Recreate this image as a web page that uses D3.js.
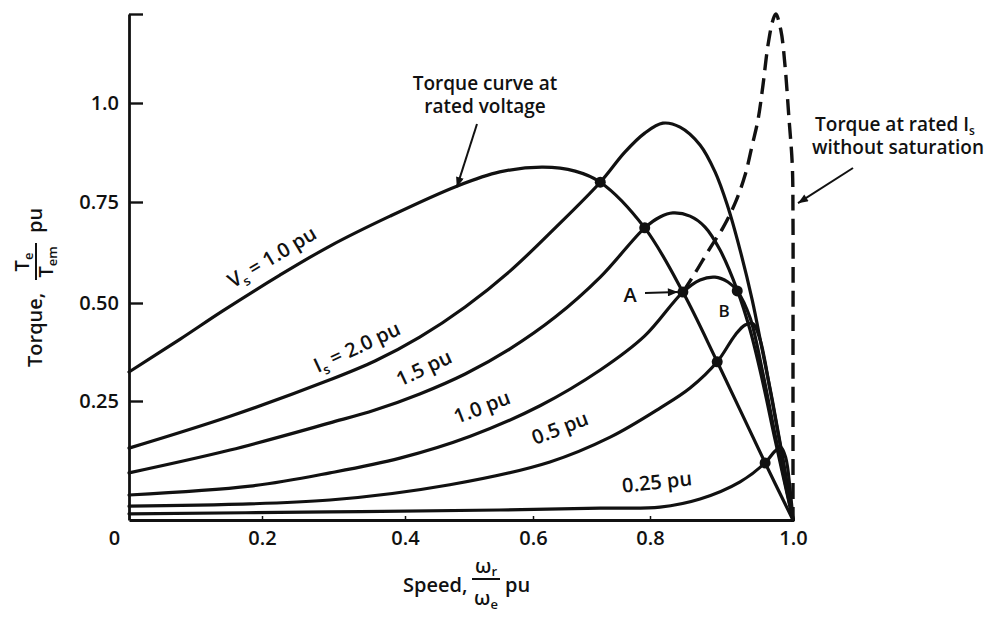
<!DOCTYPE html>
<html><head><meta charset="utf-8">
<script src="https://cdn.jsdelivr.net/npm/d3@7"></script>
<style>
html,body{margin:0;padding:0;background:#fff;}
svg{display:block;}
text{font-family:"Open Sans",sans-serif;fill:#111;font-weight:600;}
</style></head><body>
<svg id="chart" width="992" height="618"></svg>
<script>
// ---------------- data ----------------
const xTicks = [0, 0.2, 0.4, 0.6, 0.8, 1.0];
const xTickLabels = ["0", "0.2", "0.4", "0.6", "0.8", "1.0"];
const yTicks = [0.25, 0.5, 0.75, 1.0];
const yTickLabels = ["0.25", "0.50", "0.75", "1.0"];
const yTop = 1.225;

// [speed pu, torque pu]
const ratedVoltage = [[0,0.324],[0.077,0.408],[0.141,0.480],[0.225,0.569],[0.295,0.641],[0.379,0.715],[0.481,0.790],[0.548,0.826],[0.617,0.838],[0.672,0.828],[0.715,0.800],[0.791,0.686],[0.846,0.527],[0.894,0.350],[0.961,0.120],[1.0,0]];
const is20 = [[0,0.151],[0.152,0.218],[0.295,0.304],[0.358,0.352],[0.423,0.413],[0.494,0.490],[0.564,0.579],[0.638,0.686],[0.715,0.800],[0.757,0.876],[0.791,0.924],[0.818,0.949],[0.842,0.939],[0.870,0.894],[0.891,0.826],[0.908,0.743],[0.926,0.631],[0.943,0.507],[0.957,0.380],[0.971,0.253],[0.985,0.137],[1.0,0]];
const is15 = [[0,0.099],[0.152,0.147],[0.295,0.204],[0.358,0.231],[0.423,0.268],[0.494,0.319],[0.564,0.383],[0.638,0.464],[0.715,0.564],[0.791,0.686],[0.814,0.713],[0.832,0.723],[0.856,0.715],[0.877,0.688],[0.898,0.631],[0.922,0.532],[0.940,0.431],[0.957,0.304],[0.975,0.168],[1.0,0]];
const is10 = [[0,0.0525],[0.182,0.071],[0.295,0.099],[0.393,0.130],[0.502,0.176],[0.612,0.240],[0.715,0.329],[0.791,0.416],[0.846,0.527],[0.870,0.557],[0.891,0.564],[0.909,0.552],[0.922,0.530],[0.940,0.462],[0.957,0.329],[0.975,0.179],[1.0,0]];
const is05 = [[0,0.029],[0.295,0.042],[0.470,0.074],[0.629,0.122],[0.732,0.174],[0.814,0.235],[0.856,0.283],[0.894,0.350],[0.919,0.418],[0.933,0.444],[0.944,0.447],[0.954,0.406],[0.968,0.278],[0.982,0.158],[1.0,0]];
const is025 = [[0,0.013],[0.295,0.017],[0.548,0.021],[0.715,0.025],[0.814,0.027],[0.870,0.044],[0.926,0.080],[0.961,0.120],[0.975,0.145],[0.983,0.153],[0.990,0.130],[0.996,0.063],[1.0,0]];
const noSaturation = [[0.846,0.527],[0.863,0.574],[0.884,0.636],[0.902,0.686],[0.919,0.747],[0.933,0.818],[0.943,0.894],[0.951,0.957],[0.958,1.045],[0.965,1.146],[0.972,1.210],[0.976,1.225],[0.983,1.184],[0.989,1.091],[0.994,0.970],[0.999,0.843],[1.0,0.705],[1.0,0.35],[1.0,0]];
const operatingPoints = [[0.715,0.800],[0.791,0.686],[0.846,0.527],[0.894,0.350],[0.961,0.120],[0.922,0.530]];

// ---------------- chart ----------------
const svg = d3.select("#chart");
const ink = "#111";
const x = d3.scaleLinear().domain(xTicks).range([129, 262, 405, 533, 650, 793]);
const y = d3.scaleLinear().domain([0, ...yTicks, yTop]).range([520, 401, 303, 202, 103, 14]);

// axes
const yAxis = d3.axisLeft(y).tickValues([...yTicks, yTop]).tickSize(-14).tickSizeOuter(0).tickPadding(10)
  .tickFormat((d, i) => i < yTickLabels.length ? yTickLabels[i] : "");
const gy = svg.append("g").attr("transform", `translate(${x(0)},0)`).call(yAxis)
  .attr("font-size", null).attr("font-family", null);
gy.select(".domain").attr("stroke", ink).attr("stroke-width", 2.8);
gy.selectAll(".tick line").attr("stroke", ink).attr("stroke-width", 2.4);
gy.selectAll(".tick text").attr("font-size", 20).attr("fill", ink).attr("dy", "0.34em");

const xAxis = d3.axisBottom(x).tickValues(xTicks).tickSize(-4).tickSizeOuter(0).tickPadding(11)
  .tickFormat((d, i) => xTickLabels[i]);
const gx = svg.append("g").attr("transform", `translate(0,${y(0)})`).call(xAxis)
  .attr("font-size", null).attr("font-family", null);
gx.select(".domain").attr("stroke", ink).attr("stroke-width", 2.8);
gx.selectAll(".tick line").attr("stroke", ink).attr("stroke-width", 1.5);
gx.selectAll(".tick text").attr("font-size", 20).attr("fill", ink);
gx.selectAll(".tick text").filter((d, i) => i === 0).attr("x", -15);

// curves
const line = d3.line().x(d => x(d[0])).y(d => y(d[1])).curve(d3.curveCatmullRom.alpha(0.5));
const solid = [ratedVoltage, is20, is15, is10, is05, is025];
svg.append("g").selectAll("path").data(solid).join("path")
  .attr("d", line).attr("fill", "none").attr("stroke", ink)
  .attr("stroke-width", 3.2).attr("stroke-linejoin", "round").attr("stroke-linecap", "round");
svg.append("path").datum(noSaturation).attr("d", line).attr("fill", "none")
  .attr("stroke", ink).attr("stroke-width", 3.4).attr("stroke-dasharray", "16,8");

svg.append("g").selectAll("circle").data(operatingPoints).join("circle")
  .attr("cx", d => x(d[0])).attr("cy", d => y(d[1])).attr("r", 5.5).attr("fill", ink);

// arrow marker
svg.append("defs").append("marker").attr("id", "arr").attr("viewBox", "0 0 10 8")
  .attr("refX", 10).attr("refY", 4).attr("markerWidth", 11).attr("markerHeight", 8)
  .attr("markerUnits", "userSpaceOnUse").attr("orient", "auto")
  .append("path").attr("d", "M0,0L10,4L0,8Z").attr("fill", ink);

function arrow(x1, y1, x2, y2) {
  svg.append("line").attr("x1", x1).attr("y1", y1).attr("x2", x2).attr("y2", y2)
    .attr("stroke", ink).attr("stroke-width", 2).attr("marker-end", "url(#arr)");
}

// annotations
const t1 = svg.append("text").attr("font-size", 19).attr("text-anchor", "middle");
t1.append("tspan").attr("x", 485).attr("y", 90).text("Torque curve at");
t1.append("tspan").attr("x", 485).attr("y", 113).text("rated voltage");
arrow(477, 124, x(0.481), y(0.790) + 1);

const t2 = svg.append("text").attr("font-size", 19).attr("text-anchor", "middle");
const l1 = t2.append("tspan").attr("x", 895).attr("y", 131);
l1.append("tspan").text("Torque at rated I");
l1.append("tspan").attr("font-size", 12).attr("dy", 4).text("s");
t2.append("tspan").attr("x", 898).attr("y", 154).text("without saturation");
arrow(853, 168, x(1.0) + 5, y(0.747));

svg.append("text").attr("font-size", 20).attr("x", 630).attr("y", 302).attr("text-anchor", "middle").text("A");
arrow(645, 293, x(0.846) - 5, y(0.527));
svg.append("text").attr("font-size", 17).attr("x", 724).attr("y", 317).attr("text-anchor", "middle").text("B");

function curveLabel(cx, cy, ang, main, sub, rest) {
  const t = svg.append("text").attr("font-size", 20).attr("text-anchor", "middle")
    .attr("transform", `translate(${cx},${cy}) rotate(${ang})`).attr("dy", "0.35em");
  if (sub) {
    t.append("tspan").text(main);
    t.append("tspan").attr("font-size", 13).attr("dy", 5).text(sub);
    t.append("tspan").attr("dy", -5).text(rest);
  } else {
    t.text(main);
  }
}
curveLabel(272, 257, -31, "V", "s", " = 1.0 pu");
curveLabel(357, 347, -25, "I", "s", " = 2.0 pu");
curveLabel(424, 368, -25, "1.5 pu");
curveLabel(482, 407, -21, "1.0 pu");
curveLabel(560, 428, -21, "0.5 pu");
curveLabel(657, 482, -6, "0.25 pu");

// axis titles
const yl = svg.append("g").attr("transform", "translate(42,367) rotate(-90)");
yl.append("text").attr("font-size", 20).attr("x", 0).attr("y", 0).text("Torque,");
const yn = yl.append("text").attr("font-size", 20).attr("x", 105).attr("y", -13).attr("text-anchor", "middle");
yn.append("tspan").text("T"); yn.append("tspan").attr("font-size", 13).attr("dy", 4).text("e");
yl.append("line").attr("x1", 87).attr("x2", 124).attr("y1", -6).attr("y2", -6).attr("stroke", ink).attr("stroke-width", 2);
const yd = yl.append("text").attr("font-size", 20).attr("x", 105).attr("y", 11).attr("text-anchor", "middle");
yd.append("tspan").text("T"); yd.append("tspan").attr("font-size", 13).attr("dy", 4).text("em");
yl.append("text").attr("font-size", 20).attr("x", 134).attr("y", 0).text("pu");

const xl = svg.append("g");
xl.append("text").attr("font-size", 20).attr("x", 403).attr("y", 592).text("Speed,");
const xn = xl.append("text").attr("font-size", 20).attr("x", 486).attr("y", 573).attr("text-anchor", "middle");
xn.append("tspan").text("ω"); xn.append("tspan").attr("font-size", 13).attr("dy", 3).text("r");
xl.append("line").attr("x1", 472).attr("x2", 500).attr("y1", 579).attr("y2", 579).attr("stroke", ink).attr("stroke-width", 2);
const xd = xl.append("text").attr("font-size", 20).attr("x", 486).attr("y", 605).attr("text-anchor", "middle");
xd.append("tspan").text("ω"); xd.append("tspan").attr("font-size", 13).attr("dy", 4).text("e");
xl.append("text").attr("font-size", 20).attr("x", 505).attr("y", 592).text("pu");
</script>
</body></html>
